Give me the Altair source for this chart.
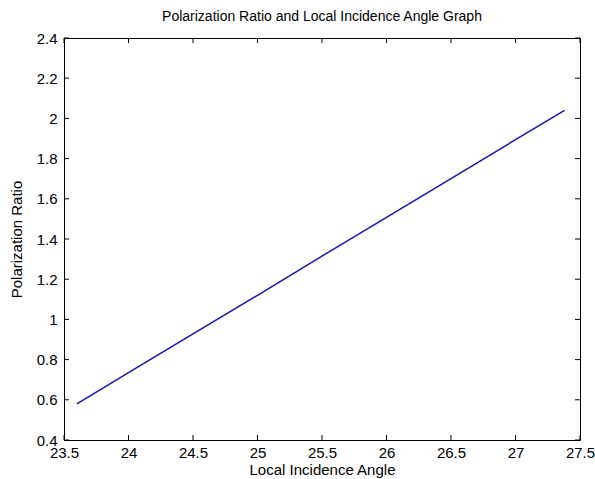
import altair as alt
import pandas as pd

# Data
angle = [23.6, 24.0, 24.5, 25.0, 25.5, 26.0, 26.5, 27.0, 27.38]
ratio = [0.58, 0.735, 0.928, 1.12, 1.315, 1.508, 1.70, 1.894, 2.04]

x_ticks = [23.5, 24.0, 24.5, 25.0, 25.5, 26.0, 26.5, 27.0, 27.5]
y_ticks = [0.4, 0.6, 0.8, 1.0, 1.2, 1.4, 1.6, 1.8, 2.0, 2.2, 2.4]

W, H = 516, 402
FONT = "Liberation Sans"

df = pd.DataFrame({"angle": angle, "ratio": ratio})
dfx = pd.DataFrame({"angle": x_ticks})
dfy = pd.DataFrame({"ratio": y_ticks})

xs = alt.Scale(domain=[23.5, 27.5], nice=False, zero=False)
ys = alt.Scale(domain=[0.4, 2.4], nice=False, zero=False)

x_axis = alt.Axis(title="Local Incidence Angle", values=x_ticks,
                  format="~g", grid=False, ticks=False, domain=False,
                  labelPadding=5, titlePadding=2,
                  labelFontSize=15, titleFontSize=15,
                  labelFont=FONT, titleFont=FONT,
                  labelColor="#000", titleColor="#000",
                  titleFontWeight="normal", labelFlush=False)
y_axis = alt.Axis(title="Polarization Ratio", values=y_ticks,
                  format="~g", grid=False, ticks=False, domain=False,
                  labelPadding=7, titlePadding=12,
                  labelFontSize=15, titleFontSize=15,
                  labelFont=FONT, titleFont=FONT,
                  labelColor="#000", titleColor="#000",
                  titleFontWeight="normal", labelFlush=False)

line = alt.Chart(df).mark_line(color="#1414b4", strokeWidth=1.5).encode(
    x=alt.X("angle:Q", scale=xs, axis=x_axis),
    y=alt.Y("ratio:Q", scale=ys, axis=y_axis),
)

tick_len = 5
xt_bottom = alt.Chart(dfx).mark_rule(color="#000", strokeWidth=1).encode(
    x=alt.X("angle:Q", scale=xs, axis=x_axis),
    y=alt.value(H), y2=alt.value(H - tick_len))
xt_top = alt.Chart(dfx).mark_rule(color="#000", strokeWidth=1).encode(
    x=alt.X("angle:Q", scale=xs, axis=x_axis),
    y=alt.value(0), y2=alt.value(tick_len))
yt_left = alt.Chart(dfy).mark_rule(color="#000", strokeWidth=1).encode(
    y=alt.Y("ratio:Q", scale=ys, axis=y_axis),
    x=alt.value(0), x2=alt.value(tick_len))
yt_right = alt.Chart(dfy).mark_rule(color="#000", strokeWidth=1).encode(
    y=alt.Y("ratio:Q", scale=ys, axis=y_axis),
    x=alt.value(W), x2=alt.value(W - tick_len))

chart = alt.layer(line, xt_bottom, xt_top, yt_left, yt_right).properties(
    width=W, height=H,
    title=alt.TitleParams("Polarization Ratio and Local Incidence Angle Graph",
                          font=FONT, fontSize=14, fontWeight="normal",
                          color="#000", anchor="middle", offset=7),
    autosize=alt.AutoSizeParams(type="none"),
    padding={"left": 64, "top": 38, "right": 15, "bottom": 39},
    background="white",
).configure_view(stroke="#000", strokeWidth=1)

chart.save("out.html", embed_options={"renderer": "svg", "actions": False})
